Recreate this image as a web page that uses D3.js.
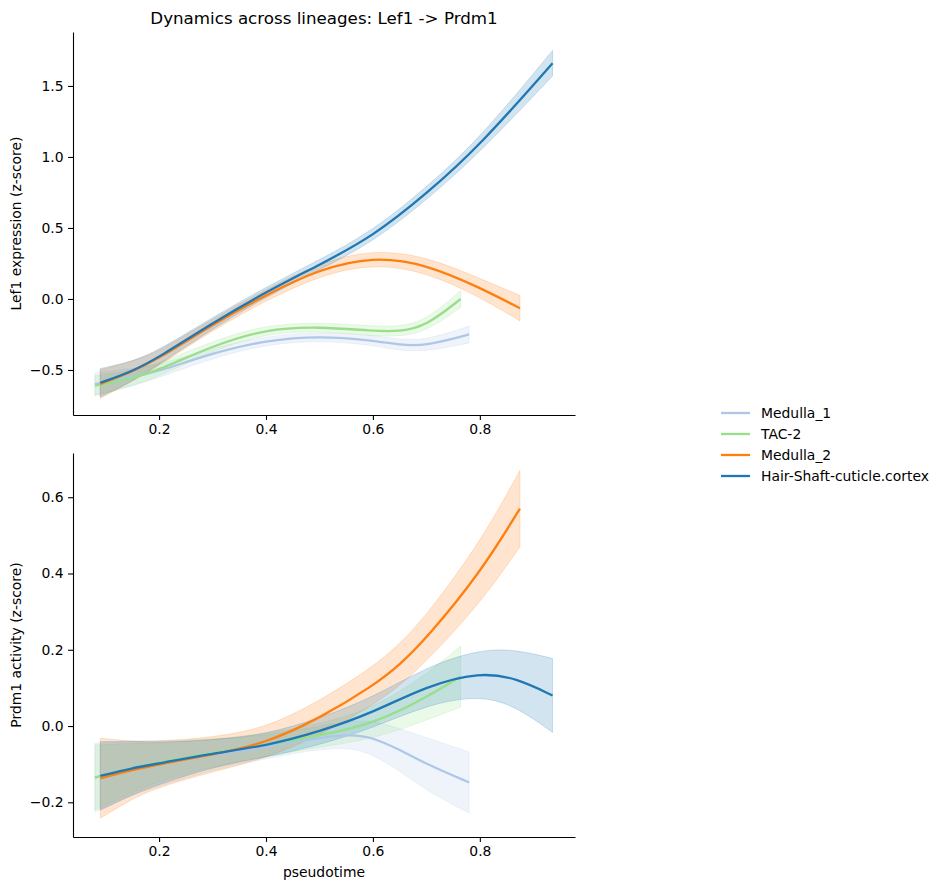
<!DOCTYPE html>
<html lang="en">
<head>
<meta charset="utf-8">
<style>
  body { margin: 0; background: #fff; }
  svg text { font-family: "DejaVu Sans", sans-serif; fill: #000; }
</style>
</head>
<body>
<div id="chart"></div>
<script src="https://d3js.org/d3.v7.min.js"></script>
<script>
// lineage order (drawing + legend order)
var lineages = ["Medulla_1", "TAC-2", "Medulla_2", "Hair-Shaft-cuticle.cortex"];
var colors = ["#aec7e8", "#98df8a", "#ff7f0e", "#1f77b4"];

var title = "Dynamics across lineages: Lef1 -> Prdm1";
var xTicks = [0.2, 0.4, 0.6, 0.8];
var topTicks = [-0.5, 0.0, 0.5, 1.0, 1.5];
var bottomTicks = [-0.2, 0.0, 0.2, 0.4, 0.6];

// --- top panel: Lef1 expression (pseudotime, mean, ci half-width)
var lefMed1X  = [0.08, 0.15, 0.2, 0.3, 0.4, 0.5, 0.6, 0.65, 0.7, 0.78];
var lefMed1Y  = [-0.60, -0.55, -0.51, -0.38, -0.29, -0.26, -0.29, -0.325, -0.33, -0.25];
var lefMed1Ci = [0.08, 0.06, 0.045, 0.035, 0.03, 0.03, 0.035, 0.04, 0.04, 0.06];

var lefTacX  = [0.08, 0.15, 0.2, 0.3, 0.4, 0.5, 0.6, 0.65, 0.7, 0.764];
var lefTacY  = [-0.61, -0.56, -0.50, -0.33, -0.21, -0.195, -0.225, -0.23, -0.19, 0.0];
var lefTacCi = [0.07, 0.055, 0.045, 0.035, 0.03, 0.03, 0.035, 0.035, 0.04, 0.06];

var lefMed2X  = [0.09, 0.15, 0.2, 0.3, 0.4, 0.5, 0.6, 0.7, 0.8, 0.875];
var lefMed2Y  = [-0.60, -0.51, -0.42, -0.18, 0.03, 0.21, 0.30, 0.245, 0.08, -0.065];
var lefMed2Ci = [0.10, 0.07, 0.05, 0.04, 0.04, 0.045, 0.05, 0.055, 0.065, 0.09];

var lefHairX  = [0.09, 0.15, 0.2, 0.3, 0.4, 0.5, 0.6, 0.7, 0.8, 0.936];
var lefHairY  = [-0.59, -0.51, -0.41, -0.17, 0.05, 0.24, 0.44, 0.74, 1.08, 1.66];
var lefHairCi = [0.10, 0.07, 0.05, 0.04, 0.035, 0.035, 0.04, 0.045, 0.05, 0.09];

// --- bottom panel: Prdm1 activity
var prdMed1X  = [0.08, 0.15, 0.2, 0.3, 0.4, 0.5, 0.56, 0.6, 0.65, 0.7, 0.78];
var prdMed1Y  = [-0.135, -0.11, -0.098, -0.075, -0.055, -0.03, -0.022, -0.03, -0.062, -0.10, -0.148];
var prdMed1Ci = [0.09, 0.07, 0.06, 0.04, 0.03, 0.03, 0.035, 0.045, 0.055, 0.07, 0.08];

var prdTacX  = [0.08, 0.15, 0.2, 0.3, 0.4, 0.5, 0.6, 0.7, 0.764];
var prdTacY  = [-0.135, -0.11, -0.095, -0.07, -0.05, -0.025, 0.005, 0.075, 0.13];
var prdTacCi = [0.085, 0.065, 0.05, 0.035, 0.03, 0.03, 0.04, 0.06, 0.08];

var prdMed2X  = [0.09, 0.15, 0.2, 0.3, 0.4, 0.5, 0.6, 0.65, 0.7, 0.8, 0.875];
var prdMed2Y  = [-0.137, -0.115, -0.10, -0.075, -0.045, 0.02, 0.105, 0.16, 0.23, 0.40, 0.57];
var prdMed2Ci = [0.105, 0.075, 0.06, 0.045, 0.04, 0.045, 0.05, 0.055, 0.06, 0.08, 0.10];

var prdHairX  = [0.09, 0.15, 0.2, 0.3, 0.4, 0.5, 0.6, 0.7, 0.8, 0.87, 0.936];
var prdHairY  = [-0.131, -0.11, -0.098, -0.072, -0.052, -0.015, 0.035, 0.105, 0.142, 0.125, 0.08];
var prdHairCi = [0.09, 0.07, 0.055, 0.035, 0.03, 0.035, 0.04, 0.05, 0.06, 0.075, 0.097];

var width = 943, height = 890;
var left = 73, right = 575;

function series(xs, ys, cis) {
  return xs.map(function(x, i) { return {x: x, y: ys[i], ci: cis[i]}; });
}

var panels = [
  {top: 32, bottom: 415, domain: [-0.817, 1.88], ticks: topTicks, label: "Lef1 expression (z-score)",
   data: [series(lefMed1X, lefMed1Y, lefMed1Ci), series(lefTacX, lefTacY, lefTacCi),
          series(lefMed2X, lefMed2Y, lefMed2Ci), series(lefHairX, lefHairY, lefHairCi)]},
  {top: 453, bottom: 837, domain: [-0.291, 0.716], ticks: bottomTicks, label: "Prdm1 activity (z-score)",
   data: [series(prdMed1X, prdMed1Y, prdMed1Ci), series(prdTacX, prdTacY, prdTacCi),
          series(prdMed2X, prdMed2Y, prdMed2Ci), series(prdHairX, prdHairY, prdHairCi)]}
];

var svg = d3.select("#chart").append("svg")
    .attr("width", width)
    .attr("height", height);

svg.append("rect").attr("width", width).attr("height", height).attr("fill", "#fff");

var x = d3.scaleLinear().domain([0.039, 0.978]).range([left, right]);
var curve = d3.curveBasis;
var fmt = d3.format(".1f");

function minus(s) { return s.replace("-", "\u2212"); }

panels.forEach(function(p) {
  var y = d3.scaleLinear().domain(p.domain).range([p.bottom, p.top]);
  var g = svg.append("g");

  var area = d3.area().curve(curve)
      .x(function(d) { return x(d.x); })
      .y0(function(d) { return y(d.y - d.ci); })
      .y1(function(d) { return y(d.y + d.ci); });
  var line = d3.line().curve(curve)
      .x(function(d) { return x(d.x); })
      .y(function(d) { return y(d.y); });

  p.data.forEach(function(s, i) {
    g.append("path")
      .attr("d", area(s))
      .attr("fill", colors[i])
      .attr("fill-opacity", 0.2)
      .attr("stroke", colors[i])
      .attr("stroke-opacity", 0.2)
      .attr("stroke-width", 1);
  });
  p.data.forEach(function(s, i) {
    g.append("path")
      .attr("d", line(s))
      .attr("fill", "none")
      .attr("stroke", colors[i])
      .attr("stroke-width", 2.3);
  });

  var xa = svg.append("g")
      .attr("transform", "translate(0," + p.bottom + ")")
      .call(d3.axisBottom(x).tickValues(xTicks).tickFormat(fmt).tickSize(4.9).tickPadding(4.6).tickSizeOuter(0));
  var ya = svg.append("g")
      .attr("transform", "translate(" + left + ",0)")
      .call(d3.axisLeft(y).tickValues(p.ticks).tickFormat(function(d) { return minus(fmt(d)); }).tickSize(4.9).tickPadding(4.6).tickSizeOuter(0));
  [xa, ya].forEach(function(a) {
    a.selectAll("text").style("font-size", "13.9px").style("font-family", "DejaVu Sans");
    a.selectAll("line, path").attr("stroke", "#000").attr("stroke-width", 1.1);
  });

  svg.append("text")
    .attr("transform", "translate(21," + ((p.top + p.bottom) / 2) + ") rotate(-90)")
    .attr("text-anchor", "middle")
    .style("font-size", "13.9px")
    .text(p.label);
});

svg.append("text")
  .attr("x", (left + right) / 2)
  .attr("y", 24)
  .attr("text-anchor", "middle")
  .style("font-size", "16.7px")
  .text(title);

svg.append("text")
  .attr("x", (left + right) / 2)
  .attr("y", 877)
  .attr("text-anchor", "middle")
  .style("font-size", "13.9px")
  .text("pseudotime");

// legend
var legend = svg.append("g").attr("transform", "translate(721,413)");
lineages.forEach(function(name, i) {
  var row = legend.append("g").attr("transform", "translate(0," + (i * 21) + ")");
  row.append("line").attr("x1", 0).attr("x2", 29).attr("y1", 0).attr("y2", 0)
    .attr("stroke", colors[i]).attr("stroke-width", 2.3);
  row.append("text").attr("x", 40).attr("dy", "0.35em")
    .style("font-size", "13.9px").text(name);
});
</script>
</body>
</html>
